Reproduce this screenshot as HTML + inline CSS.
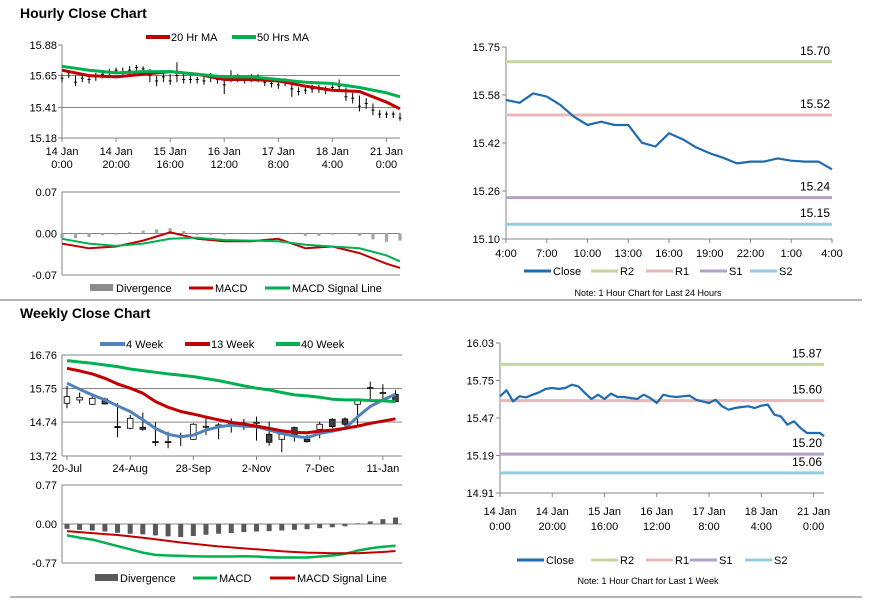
<!DOCTYPE html>
<html><head><meta charset="utf-8"><style>
html,body{margin:0;padding:0;background:#fff;}
svg{display:block;font-family:"Liberation Sans",Arial,sans-serif;}
</style></head><body>
<svg id="chart" width="873" height="601" viewBox="0 0 873 601" xmlns="http://www.w3.org/2000/svg">
<rect width="873" height="601" fill="#fff"/>
<text x="20" y="18" font-size="14" font-weight="bold" fill="#000">Hourly Close Chart</text>
<text x="20" y="318" font-size="14" font-weight="bold" fill="#000">Weekly Close Chart</text>
<line x1="0" y1="300" x2="862" y2="300" stroke="#888" stroke-width="1.2"/>
<line x1="10" y1="597" x2="862" y2="597" stroke="#888" stroke-width="1.2"/>
</svg>
<script>
// ---------- DATA ----------
// Hourly (step 2.5h, h=0..125)
const hClose=[15.63,15.67,15.60,15.63,15.62,15.64,15.66,15.68,15.69,15.68,15.69,15.71,15.70,15.65,15.61,15.64,15.61,15.65,15.62,15.62,15.62,15.61,15.64,15.62,15.58,15.64,15.63,15.62,15.63,15.63,15.60,15.59,15.58,15.60,15.55,15.53,15.54,15.55,15.55,15.54,15.56,15.57,15.49,15.48,15.42,15.44,15.39,15.36,15.36,15.36,15.33];
const hHigh=[15.66,15.69,15.65,15.66,15.65,15.67,15.69,15.70,15.71,15.71,15.72,15.73,15.72,15.70,15.65,15.67,15.66,15.75,15.66,15.65,15.64,15.64,15.67,15.65,15.64,15.69,15.66,15.65,15.66,15.66,15.64,15.62,15.63,15.63,15.61,15.56,15.57,15.58,15.58,15.57,15.59,15.62,15.56,15.52,15.50,15.48,15.44,15.39,15.38,15.38,15.37];
const hLow=[15.60,15.63,15.57,15.60,15.59,15.61,15.63,15.65,15.66,15.65,15.66,15.67,15.66,15.60,15.57,15.60,15.58,15.60,15.59,15.59,15.59,15.58,15.60,15.59,15.51,15.60,15.60,15.59,15.60,15.60,15.57,15.56,15.55,15.57,15.49,15.50,15.51,15.52,15.52,15.51,15.53,15.54,15.46,15.44,15.38,15.40,15.35,15.33,15.33,15.33,15.31];
// MAs (h=0,10,...,120,125)
const maHours=[0,10,20,30,40,50,60,70,80,90,100,110,120,125];
const ma20=[15.69,15.65,15.64,15.66,15.68,15.66,15.62,15.62,15.61,15.57,15.54,15.53,15.45,15.40];
const ma50=[15.72,15.69,15.67,15.68,15.68,15.66,15.64,15.64,15.62,15.60,15.59,15.56,15.52,15.49];
const hMacd=[-0.017,-0.025,-0.022,-0.012,0.002,-0.009,-0.013,-0.013,-0.009,-0.025,-0.022,-0.033,-0.051,-0.058];
const hSignal=[-0.009,-0.017,-0.021,-0.017,-0.009,-0.007,-0.011,-0.012,-0.013,-0.019,-0.022,-0.025,-0.037,-0.047];
// divergence every 5h
const hDiv=[-0.008,-0.008,-0.006,-0.003,-0.002,0.002,0.005,0.007,0.009,0.004,-0.002,-0.002,-0.002,-0.001,-0.001,0.001,0.001,-0.001,-0.004,-0.004,-0.002,0.001,-0.004,-0.010,-0.014,-0.012];
const hTickLabels=[["14 Jan","0:00"],["14 Jan","20:00"],["15 Jan","16:00"],["16 Jan","12:00"],["17 Jan","8:00"],["18 Jan","4:00"],["21 Jan","0:00"]];
const hTickHours=[0,20,40,60,80,100,120];
const hYTicks=[15.88,15.65,15.41,15.18];
const hMacdTicks=[0.07,0.00,-0.07];

// 24h chart
const dClose=[15.571,15.561,15.593,15.582,15.554,15.514,15.486,15.497,15.486,15.486,15.426,15.413,15.458,15.438,15.410,15.390,15.375,15.356,15.362,15.362,15.373,15.365,15.362,15.362,15.336];
const dXLabels=["4:00","7:00","10:00","13:00","16:00","19:00","22:00","1:00","4:00"];
const dYTicks=["15.75","15.58","15.42","15.26","15.10"];
const dLevels=[15.70,15.52,15.24,15.15];

// Weekly
const wOpen=[15.307,15.407,15.277,15.437,14.605,14.554,14.585,14.153,14.153,14.324,14.223,14.605,14.645,14.695,14.695,14.725,14.374,14.223,14.575,14.223,14.524,14.825,14.835,15.277,15.768,15.618,15.578];
const wClose=[15.507,15.487,15.457,15.287,14.595,14.855,14.524,14.143,14.143,14.314,14.675,14.615,14.655,14.705,14.705,14.735,14.133,14.374,14.354,14.153,14.675,14.605,14.675,15.427,15.778,15.628,15.357];
const wHigh=[15.828,15.628,15.558,15.477,15.307,14.956,15.026,14.735,14.454,14.424,14.705,14.855,14.705,14.855,14.835,14.906,14.755,14.374,14.605,14.354,14.755,14.855,14.886,15.457,15.959,15.878,15.708];
const wLow=[15.156,15.307,15.257,15.277,14.284,14.524,14.484,14.023,13.953,14.023,14.203,14.354,14.223,14.424,14.504,14.183,14.033,13.832,14.153,14.123,14.254,14.554,14.605,14.625,15.427,15.407,15.357];
const wk4=[15.91,15.73,15.56,15.41,15.23,15.06,14.81,14.55,14.37,14.30,14.35,14.50,14.60,14.65,14.62,14.60,14.50,14.40,14.32,14.27,14.40,14.47,14.55,14.90,15.21,15.41,15.58];
const wk13=[16.36,16.28,16.19,16.06,15.89,15.76,15.61,15.36,15.19,15.06,14.98,14.89,14.81,14.73,14.68,14.62,14.55,14.48,14.43,14.42,14.47,14.50,14.55,14.62,14.70,14.77,14.84];
const wk40=[16.59,16.55,16.51,16.46,16.41,16.34,16.29,16.24,16.19,16.15,16.11,16.05,15.99,15.91,15.83,15.76,15.71,15.63,15.56,15.53,15.49,15.43,15.41,15.41,15.39,15.38,15.35];
const wDiv=[-0.096,-0.115,-0.128,-0.148,-0.173,-0.193,-0.205,-0.225,-0.244,-0.257,-0.237,-0.212,-0.193,-0.180,-0.160,-0.148,-0.141,-0.128,-0.115,-0.103,-0.083,-0.064,-0.045,0.013,0.051,0.096,0.128];
const wMacd=[-0.225,-0.270,-0.308,-0.372,-0.436,-0.500,-0.565,-0.610,-0.622,-0.629,-0.635,-0.642,-0.642,-0.642,-0.635,-0.642,-0.655,-0.661,-0.661,-0.661,-0.642,-0.622,-0.590,-0.526,-0.481,-0.449,-0.430];
const wSignal=[-0.141,-0.160,-0.180,-0.199,-0.218,-0.244,-0.270,-0.302,-0.334,-0.366,-0.391,-0.417,-0.443,-0.462,-0.481,-0.500,-0.520,-0.539,-0.552,-0.565,-0.571,-0.578,-0.578,-0.578,-0.565,-0.552,-0.533];
const wXLabels=["20-Jul","24-Aug","28-Sep","2-Nov","7-Dec","11-Jan"];
const wXIdx=[0,5,10,15,20,25];
const wYTicks=[16.76,15.75,14.74,13.72];
const wMacdTicks=[0.77,0.00,-0.77];

// 1 week hourly close (step 2.5h)
const kClose=[15.632,15.677,15.594,15.632,15.624,15.644,15.662,15.687,15.694,15.687,15.694,15.719,15.706,15.657,15.612,15.644,15.612,15.652,15.627,15.627,15.619,15.612,15.644,15.619,15.582,15.644,15.632,15.627,15.632,15.637,15.607,15.594,15.582,15.607,15.557,15.532,15.545,15.552,15.557,15.545,15.562,15.570,15.495,15.482,15.420,15.445,15.395,15.358,15.358,15.358,15.333];
const kYTicks=["16.03","15.75","15.47","15.19","14.91"];
const kLevels=[15.87,15.60,15.20,15.06];

// ---------- HELPERS ----------
const NS="http://www.w3.org/2000/svg";
const svg=document.getElementById('chart');
function mk(tag,attrs,parent){const e=document.createElementNS(NS,tag);for(const k in attrs)e.setAttribute(k,attrs[k]);(parent||svg).appendChild(e);return e;}
function lin(d0,d1,r0,r1){return v=>r0+(v-d0)*(r1-r0)/(d1-d0);}
function pts(xs,ys){return xs.map((x,i)=>x.toFixed(1)+","+ys[i].toFixed(1)).join(" ");}
const AX="#868686";
const lvlColors=["#c3d69b","#e6b9b8","#b3a2c7","#93cddd"];
const lvlNames=["r2","r1","s1","s2"];

// ---------- PANEL 1: hourly candles ----------
const p1x=lin(0,125,62,400), p1y=lin(15.88,15.18,45,138);
hYTicks.forEach((t,i)=>{
  const y=p1y(t);
  if(i>0){const g=mk('line',{x1:62,x2:400,y1:y,y2:y,stroke:AX,'stroke-width':1});
  
  }
  const tx=mk('text',{x:57,y:y+4,'font-size':11,'text-anchor':'end',fill:'#000'});tx.textContent=t.toFixed(2);
  
  
  mk('line',{x1:58,x2:62,y1:y,y2:y,stroke:AX});
});
{const a=mk('line',{x1:62,x2:62,y1:45,y2:138,stroke:AX});}
hTickHours.forEach((h,i)=>{
  const x=p1x(h);
  mk('line',{x1:x,x2:x,y1:138,y2:142,stroke:AX});
  const t1=mk('text',{x:x,y:155,'font-size':11,'text-anchor':'middle'});t1.textContent=hTickLabels[i][0];
  
  
  const t2=mk('text',{x:x,y:168,'font-size':11,'text-anchor':'middle'});t2.textContent=hTickLabels[i][1];
  
  
});
hClose.forEach((c,i)=>{
  const x=p1x(i*2.5);
  const s=mk('line',{x1:x,x2:x,y1:p1y(hHigh[i]),y2:p1y(hLow[i]),stroke:'#000','stroke-width':1});
  
  
  mk('line',{x1:x-1.5,x2:x+1.5,y1:p1y(c),y2:p1y(c),stroke:'#000','stroke-width':1});
});
{const l=mk('polyline',{points:pts(maHours.map(p1x),ma20.map(p1y)),fill:'none',stroke:'#c00000','stroke-width':3});
}
{const l=mk('polyline',{points:pts(maHours.map(p1x),ma50.map(p1y)),fill:'none',stroke:'#00b050','stroke-width':3});
}
// legend
{const g=mk('g',{});
mk('line',{x1:146,x2:170,y1:37,y2:37,stroke:'#c00000','stroke-width':4},g);
mk('text',{x:171,y:41,'font-size':11},g).textContent="20 Hr MA";
mk('line',{x1:232,x2:256,y1:37,y2:37,stroke:'#00b050','stroke-width':4},g);
mk('text',{x:257,y:41,'font-size':11},g).textContent="50 Hrs MA";}

// ---------- PANEL 1b: hourly MACD ----------
const p1my=lin(0.07,-0.07,192,275);
hMacdTicks.forEach(t=>{
  const y=p1my(t);
  const g=mk('line',{x1:62,x2:400,y1:y,y2:y,stroke:AX});
  
  
  const tx=mk('text',{x:57,y:y+4,'font-size':11,'text-anchor':'end'});tx.textContent=t.toFixed(2);
  
  
});
mk('line',{x1:62,x2:62,y1:192,y2:275,stroke:AX});
hDiv.forEach((v,i)=>{
  const x=p1x(i*5), y0=p1my(0), y1=p1my(v);
  const b=mk('rect',{x:x-1.6,y:Math.min(y0,y1),width:3.2,height:Math.max(0.6,Math.abs(y1-y0)),fill:'#a6a6a6'});
  
  
});
{const l=mk('polyline',{points:pts(maHours.map(p1x),hMacd.map(p1my)),fill:'none',stroke:'#c00000','stroke-width':2});
}
{const l=mk('polyline',{points:pts(maHours.map(p1x),hSignal.map(p1my)),fill:'none',stroke:'#00b050','stroke-width':2});
}
{const g=mk('g',{});
mk('rect',{x:90,y:284,width:23,height:7,fill:'#8c8c8c'},g);
mk('text',{x:116,y:292,'font-size':11},g).textContent="Divergence";
mk('line',{x1:189,x2:213,y1:288,y2:288,stroke:'#c00000','stroke-width':3},g);
mk('text',{x:215,y:292,'font-size':11},g).textContent="MACD";
mk('line',{x1:265,x2:290,y1:288,y2:288,stroke:'#00b050','stroke-width':3},g);
mk('text',{x:292,y:292,'font-size':11},g).textContent="MACD Signal Line";}

// ---------- generic level chart ----------
function levelChart(name,x0,x1,y0,y1,yTicks,levels,xs,vals,yScale,note,legendY,noteY,legendXs){
  yTicks.forEach((t,i)=>{
    const y=y0+i*(y1-y0)/(yTicks.length-1);
    mk('line',{x1:x0-4,x2:x0,y1:y,y2:y,stroke:AX});
    const tx=mk('text',{x:x0-6,y:y+4,'font-size':11,'text-anchor':'end'});tx.textContent=t;
    
    
  });
  mk('line',{x1:x0,x2:x0,y1:y0,y2:y1,stroke:AX});
  mk('line',{x1:x0,x2:x1,y1:y1,y2:y1,stroke:AX});
  levels.forEach((v,i)=>{
    const y=yScale(v);
    const l=mk('line',{x1:x0,x2:x1,y1:y,y2:y,stroke:lvlColors[i],'stroke-width':3});
    
    
    const t=mk('text',{x:x1-2,y:y-7,'font-size':12,'text-anchor':'end'});t.textContent=v.toFixed(2);
    
    
  });
  const c=mk('polyline',{points:pts(xs,vals.map(yScale)),fill:'none',stroke:'#1f6bb0','stroke-width':2.2,'stroke-linejoin':'round'});
  
  
  const g=mk('g',{});
  
  
  const names=["Close","R2","R1","S1","S2"], cols=["#1f6bb0"].concat(lvlColors);
  names.forEach((n,i)=>{
    mk('line',{x1:legendXs[i],x2:legendXs[i]+27,y1:legendY,y2:legendY,stroke:cols[i],'stroke-width':3},g);
    mk('text',{x:legendXs[i]+29,y:legendY+4,'font-size':11},g).textContent=n;
  });
  const nt=mk('text',{x:648,y:noteY,'font-size':9,'text-anchor':'middle'});nt.textContent=note;
  
  
}

// ---------- PANEL 2: 24h ----------
const p2x=lin(0,24,506,832), p2y=lin(15.75,15.10,47,239);
levelChart('day',506,832,47,239,dYTicks,dLevels,dClose.map((v,i)=>p2x(i)),dClose,p2y,"Note: 1 Hour Chart for Last 24 Hours",271,296,[524,591,646,700,750]);
dXLabels.forEach((l,i)=>{
  const x=p2x(i*3);
  mk('line',{x1:x,x2:x,y1:239,y2:243,stroke:AX});
  const t=mk('text',{x:x,y:257,'font-size':11,'text-anchor':'middle'});t.textContent=l;
  
  
});

// ---------- PANEL 3: weekly candles ----------
const p3x=lin(0,26,67,395.5), p3y=lin(16.76,13.72,355,456);
wYTicks.forEach(t=>{
  const y=p3y(t);
  const g=mk('line',{x1:62,x2:402,y1:y,y2:y,stroke:AX});
  
  
  const tx=mk('text',{x:57,y:y+4,'font-size':11,'text-anchor':'end'});tx.textContent=t.toFixed(2);
  
  
});
mk('line',{x1:62,x2:62,y1:355,y2:456,stroke:AX});
wXLabels.forEach((l,i)=>{
  const x=p3x(wXIdx[i]);
  mk('line',{x1:x,x2:x,y1:456,y2:460,stroke:AX});
  const t=mk('text',{x:x,y:472,'font-size':11,'text-anchor':'middle'});t.textContent=l;
  
  
});
wOpen.forEach((o,i)=>{
  const x=p3x(i), c=wClose[i];
  const w=mk('line',{x1:x,x2:x,y1:p3y(wHigh[i]),y2:p3y(wLow[i]),stroke:'#000','stroke-width':1});
  
  
  const top=p3y(Math.max(o,c)), bot=p3y(Math.min(o,c));
  const b=mk('rect',{x:x-2.8,y:top,width:5.6,height:Math.max(1,bot-top),fill:c>=o?'#fff':'#404040',stroke:'#000','stroke-width':0.8});
  
  
});
const wIdx=wk4.map((v,i)=>p3x(i));
[[wk4,'#4f81bd','week4-line'],[wk13,'#c00000','week13-line'],[wk40,'#00b050','week40-line']].forEach(s=>{
  const l=mk('polyline',{points:pts(wIdx,s[0].map(p3y)),fill:'none',stroke:s[1],'stroke-width':3,'stroke-linejoin':'round'});
  
  
});
{const g=mk('g',{});
mk('line',{x1:100,x2:125,y1:344,y2:344,stroke:'#4f81bd','stroke-width':4},g);
mk('text',{x:126,y:348,'font-size':11},g).textContent="4 Week";
mk('line',{x1:185,x2:210,y1:344,y2:344,stroke:'#c00000','stroke-width':4},g);
mk('text',{x:211,y:348,'font-size':11},g).textContent="13 Week";
mk('line',{x1:276,x2:300,y1:344,y2:344,stroke:'#00b050','stroke-width':4},g);
mk('text',{x:301,y:348,'font-size':11},g).textContent="40 Week";}

// ---------- PANEL 3b: weekly MACD ----------
const p3my=lin(0.77,-0.77,485,563);
wMacdTicks.forEach(t=>{
  const y=p3my(t);
  const g=mk('line',{x1:62,x2:402,y1:y,y2:y,stroke:AX});
  
  
  const tx=mk('text',{x:57,y:y+4,'font-size':11,'text-anchor':'end'});tx.textContent=t.toFixed(2);
  
  
});
mk('line',{x1:62,x2:62,y1:485,y2:563,stroke:AX});
wDiv.forEach((v,i)=>{
  const x=p3x(i), y0=p3my(0), y1=p3my(v);
  const b=mk('rect',{x:x-2.5,y:Math.min(y0,y1),width:5,height:Math.abs(y1-y0),fill:'#595959'});
  
  
});
{const l=mk('polyline',{points:pts(wIdx,wMacd.map(p3my)),fill:'none',stroke:'#00b050','stroke-width':2.5});
}
{const l=mk('polyline',{points:pts(wIdx,wSignal.map(p3my)),fill:'none',stroke:'#c00000','stroke-width':2});
}
{const g=mk('g',{});
mk('rect',{x:95,y:574,width:23,height:7,fill:'#595959'},g);
mk('text',{x:120,y:582,'font-size':11},g).textContent="Divergence";
mk('line',{x1:193,x2:217,y1:578,y2:578,stroke:'#00b050','stroke-width':3},g);
mk('text',{x:219,y:582,'font-size':11},g).textContent="MACD";
mk('line',{x1:270,x2:295,y1:578,y2:578,stroke:'#c00000','stroke-width':3},g);
mk('text',{x:297,y:582,'font-size':11},g).textContent="MACD Signal Line";}

// ---------- PANEL 4: 1 week ----------
const p4x=lin(0,124,500,824), p4y=lin(16.03,14.91,343,493);
levelChart('week',500,824,343,493,kYTicks,kLevels,kClose.map((v,i)=>p4x(Math.min(i*2.5,124))),kClose,p4y,"Note: 1 Hour Chart for Last 1 Week",560,584,[517,591,646,690,745]);
hTickHours.forEach((h,i)=>{
  const x=p4x(h);
  mk('line',{x1:x,x2:x,y1:493,y2:497,stroke:AX});
  const t1=mk('text',{x:x,y:515,'font-size':11,'text-anchor':'middle'});t1.textContent=hTickLabels[i][0];
  
  
  const t2=mk('text',{x:x,y:530,'font-size':11,'text-anchor':'middle'});t2.textContent=hTickLabels[i][1];
  
  
});
</script>
</body></html>
